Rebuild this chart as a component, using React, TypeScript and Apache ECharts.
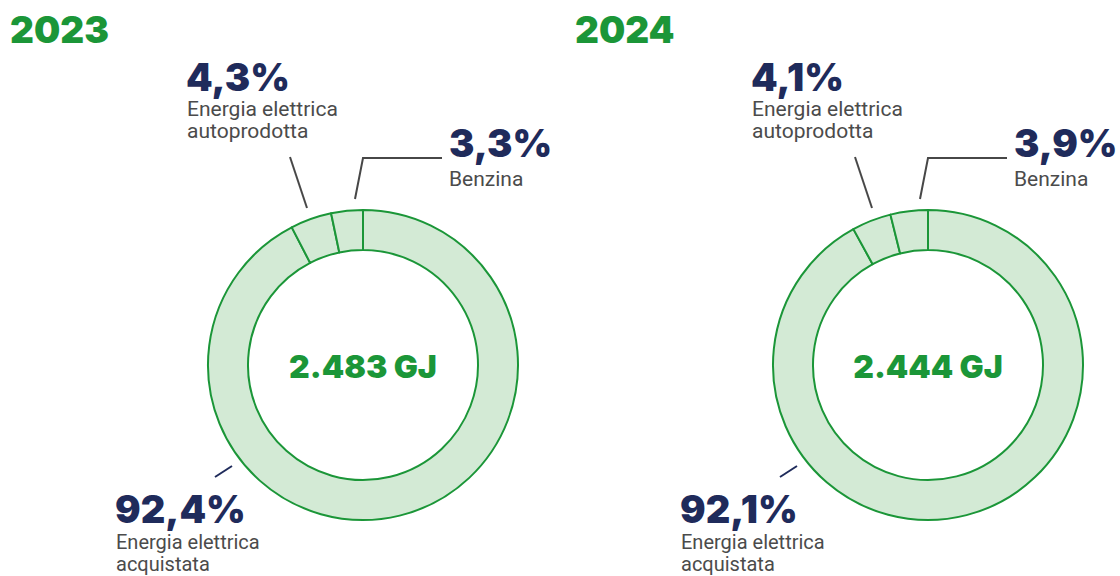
import React, { useEffect, useRef } from "react";
import * as echarts from "echarts";

const years = ["2023", "2024"];
const categories = [
  "Energia elettrica\nacquistata",
  "Energia elettrica\nautoprodotta",
  "Benzina",
];
const values2023 = [92.4, 4.3, 3.3];
const values2024 = [92.1, 4.1, 3.9];
const totals = ["2.483 GJ", "2.444 GJ"];

const GREEN = "#1b9638";
const LIGHT = "#d3ead5";
const NAVY = "#1f2b5b";
const GRAY_LINE = "#474747";
const GRAY_TEXT = "#4b4b4b";

const fmt = (v: number) => v.toFixed(1).replace(".", ",") + "%";

export default function App() {
  const ref = useRef<HTMLDivElement>(null);
  useEffect(() => {
    document.body.style.margin = "0";
    if (!ref.current) return;
    const chart = echarts.init(ref.current, undefined, { renderer: "svg" });
    const allValues = [values2023, values2024];
    const step = 565;
    const cx0 = 363;
    const cy = 365;

    const series: any[] = allValues.map((vals, i) => ({
      type: "pie",
      center: [cx0 + i * step, cy],
      radius: [115, 155],
      startAngle: 90,
      clockwise: true,
      silent: true,
      label: { show: false },
      labelLine: { show: false },
      itemStyle: { color: LIGHT, borderColor: GREEN, borderWidth: 2 },
      emphasis: { disabled: true },
      data: vals.map((v, k) => ({ name: categories[k], value: v })),
    }));

    const graphics: any[] = [];
    allValues.forEach((vals, i) => {
      const dx = i * step;
      const pctFont = {
        fontFamily: "Inter",
        fontWeight: 900,
        fontSize: 38,
        fill: NAVY,
      };
      const descFont = {
        fontFamily: "Roboto",
        fontSize: 21,
        fill: GRAY_TEXT,
        lineHeight: 22,
      };
      // Year
      graphics.push({
        type: "text",
        x: 10 + dx,
        y: 29,
        style: {
          text: years[i],
          fontFamily: "Inter",
          fontWeight: 900,
          fontSize: 37,
          fill: GREEN,
          verticalAlign: "middle",
        },
      });
      // Center total
      graphics.push({
        type: "text",
        x: cx0 + dx,
        y: 366.5,
        style: {
          text: totals[i],
          fontFamily: "Inter",
          fontWeight: 900,
          fontSize: 32,
          fill: GREEN,
          align: "center",
          verticalAlign: "middle",
        },
      });
      // Autoprodotta
      graphics.push({
        type: "text",
        x: 186 + dx,
        y: 76.5,
        style: { text: fmt(vals[1]), ...pctFont, verticalAlign: "middle" },
      });
      graphics.push({
        type: "text",
        x: 187 + dx,
        y: 97.5,
        style: { text: categories[1], ...descFont, verticalAlign: "top" },
      });
      graphics.push({
        type: "line",
        shape: { x1: 290 + dx, y1: 157, x2: 307 + dx, y2: 208 },
        style: { stroke: GRAY_LINE, lineWidth: 2 },
      });
      // Benzina
      graphics.push({
        type: "text",
        x: 449 + dx,
        y: 143,
        style: { text: fmt(vals[2]), ...pctFont, verticalAlign: "middle" },
      });
      graphics.push({
        type: "text",
        x: 449 + dx,
        y: 168,
        style: { text: categories[2], ...descFont, verticalAlign: "top" },
      });
      graphics.push({
        type: "polyline",
        shape: {
          points: [
            [355 + dx, 199],
            [363 + dx, 158],
            [442 + dx, 158],
          ],
        },
        style: { stroke: GRAY_LINE, lineWidth: 2, fill: "none" },
      });
      // Acquistata
      graphics.push({
        type: "text",
        x: 115 + dx,
        y: 509,
        style: { text: fmt(vals[0]), ...pctFont, verticalAlign: "middle" },
      });
      graphics.push({
        type: "text",
        x: 116 + dx,
        y: 531,
        style: {
          text: categories[0],
          ...descFont,
          fontSize: 20,
          lineHeight: 22,
          verticalAlign: "top",
        },
      });
      graphics.push({
        type: "line",
        shape: { x1: 215 + dx, y1: 477, x2: 232 + dx, y2: 466 },
        style: { stroke: NAVY, lineWidth: 2 },
      });
    });

    chart.setOption({
      animation: false,
      backgroundColor: "#ffffff",
      series,
      graphic: { elements: graphics },
    });
    return () => chart.dispose();
  }, []);
  return <div ref={ref} style={{ width: 1120, height: 576 }} />;
}
